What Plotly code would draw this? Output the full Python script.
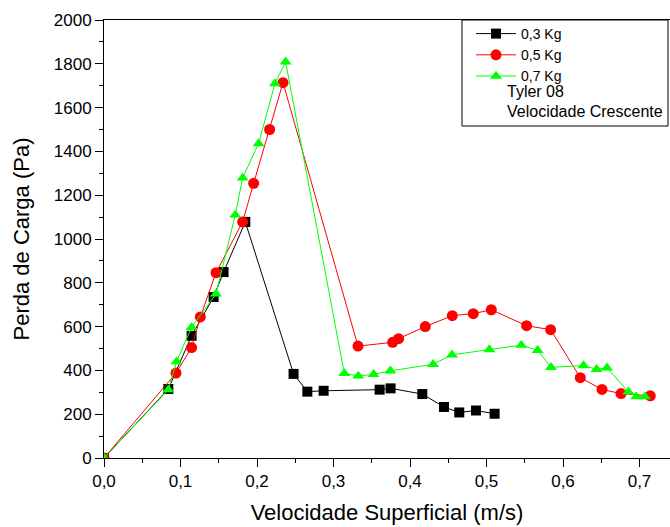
import plotly.graph_objects as go

# ---- data ----
x_03 = [0.0, 0.0841, 0.1145, 0.1433, 0.1563, 0.1847, 0.2478, 0.2658, 0.2871, 0.3603,
        0.3746, 0.4161, 0.4444, 0.4644, 0.4863, 0.5106]
y_03 = [0, 315, 558, 735, 849, 1078, 384, 303, 307, 312, 318, 292, 233, 208, 217, 202]

x_05 = [0.0, 0.0941, 0.1145, 0.1259, 0.1464, 0.1812, 0.1956, 0.2165, 0.2340, 0.3320,
        0.3773, 0.3851, 0.4200, 0.4553, 0.4827, 0.5063, 0.5524, 0.5838, 0.6226, 0.6510,
        0.6758, 0.7141]
y_05 = [0, 388, 504, 644, 846, 1078, 1254, 1500, 1714, 511, 528, 545, 600, 650, 659, 677,
        604, 586, 367, 313, 294, 284]

x_07 = [0.0, 0.0841, 0.0949, 0.1145, 0.1464, 0.1716, 0.1812, 0.2021, 0.2235, 0.2374,
        0.3141, 0.3324, 0.3524, 0.3743, 0.4301, 0.4549, 0.5037, 0.5455, 0.5668, 0.5843,
        0.6269, 0.6439, 0.6575, 0.6854, 0.6958, 0.7072]
y_07 = [0, 312, 440, 597, 749, 1110, 1279, 1436, 1710, 1809, 387, 375, 382, 398, 428, 471,
        495, 515, 492, 414, 422, 405, 412, 302, 280, 280]

series_names = ["0,3 Kg", "0,5 Kg", "0,7 Kg"]
legend_notes = ["Tyler 08", "Velocidade Crescente"]
x_title = "Velocidade Superficial (m/s)"
y_title = "Perda de Carga (Pa)"

FONT = "Liberation Sans, Arial, sans-serif"

fig = go.Figure()
fig.add_trace(go.Scatter(x=x_03, y=y_03, name=series_names[0], mode="lines+markers",
                         line=dict(color="#000000", width=1),
                         marker=dict(symbol="square", size=10, color="#000000")))
fig.add_trace(go.Scatter(x=x_05, y=y_05, name=series_names[1], mode="lines+markers",
                         line=dict(color="#ff0000", width=1),
                         marker=dict(symbol="circle", size=11, color="#ff0000")))
fig.add_trace(go.Scatter(x=x_07, y=y_07, name=series_names[2], mode="lines+markers",
                         line=dict(color="#00ff00", width=1),
                         marker=dict(symbol="triangle-up", size=10.5, color="#00ff00")))

W, H = 670, 527
L, T, R, B = 104, 20, 0, 69
pw = W - L - R
ph = H - T - B

def px_x(p):  # page pixel -> paper fraction
    return (p - L) / pw

def px_y(p):
    return 1 - (p - T) / ph

fig.update_layout(
    width=W, height=H,
    margin=dict(l=L, r=R, t=T, b=B, pad=0, autoexpand=False),
    paper_bgcolor="white", plot_bgcolor="white",
    separators=", ",
    font=dict(family=FONT, color="black", size=16),
    showlegend=True,
    legend=dict(x=px_x(471), y=px_y(18), xanchor="left", yanchor="top",
                bgcolor="rgba(0,0,0,0)", borderwidth=0,
                font=dict(family=FONT, size=14, color="black"),
                itemwidth=40, tracegroupgap=0),
    xaxis=dict(range=[0, pw / 765.0], tickvals=[0, 0.1, 0.2, 0.3, 0.4, 0.5, 0.6, 0.7],
               tickformat=".1f", ticks="outside", ticklen=8, tickwidth=1, tickcolor="black",
               showline=True, linecolor="black", linewidth=1, mirror=True,
               showgrid=False, zeroline=False, automargin=False,
               minor=dict(dtick=0.05, ticks="outside", ticklen=4, tickcolor="black", showgrid=False),
               tickfont=dict(family=FONT, size=17),
               title=dict(text=x_title, font=dict(family=FONT, size=22), standoff=14)),
    yaxis=dict(range=[0, 2000], dtick=200, ticks="outside", ticklen=8, tickwidth=1,
               tickcolor="black", showline=True, linecolor="black", linewidth=1,
               showgrid=False, zeroline=False, automargin=False,
               minor=dict(dtick=100, ticks="outside", ticklen=4, tickcolor="black", showgrid=False),
               tickfont=dict(family=FONT, size=17),
               title=dict(text=y_title, font=dict(family=FONT, size=22), standoff=18)),
    shapes=[dict(type="rect", xref="paper", yref="paper",
                 x0=px_x(462), x1=px_x(668), y0=px_y(126), y1=px_y(20),
                 line=dict(color="black", width=1), fillcolor="rgba(0,0,0,0)")],
    annotations=[
        dict(text=legend_notes[0], xref="paper", yref="paper", x=px_x(505), y=px_y(91),
             xanchor="left", yanchor="middle", showarrow=False,
             font=dict(family=FONT, size=16, color="black")),
        dict(text=legend_notes[1], xref="paper", yref="paper", x=px_x(505), y=px_y(111),
             xanchor="left", yanchor="middle", showarrow=False,
             font=dict(family=FONT, size=16, color="black")),
    ],
)

fig.write_html(
    "out.html",
    config={"displayModeBar": False},
    post_script="document.body.style.margin='0';document.body.style.overflow='hidden';",
)
